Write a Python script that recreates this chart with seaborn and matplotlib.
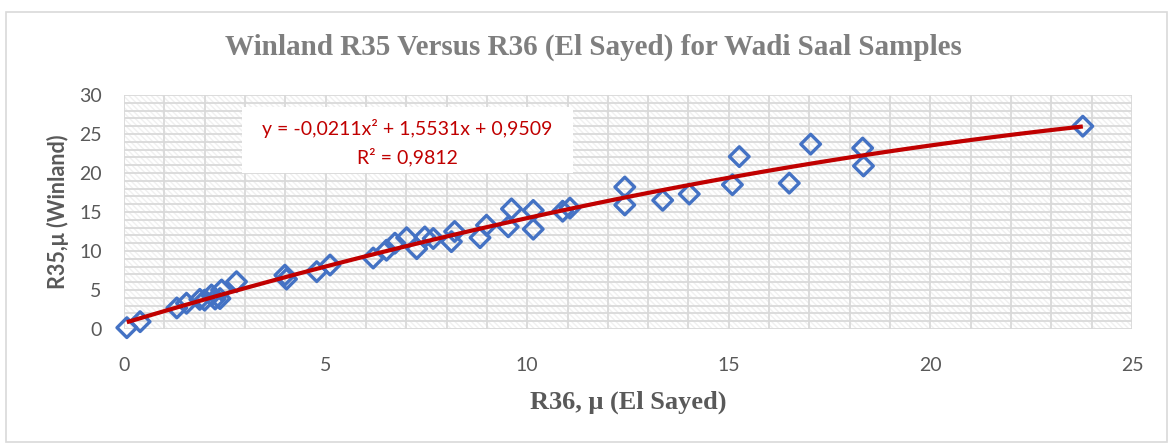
import numpy as np
import pandas as pd
import matplotlib
matplotlib.use("Agg")
import matplotlib.pyplot as plt
from matplotlib.patches import Rectangle
import seaborn as sns

# ---- data ----
r36_el_sayed = [0.07, 0.40, 1.31, 1.55, 1.88, 2.00, 2.17, 2.26, 2.42, 2.38, 2.79,
                3.99, 4.03, 4.78, 5.11, 6.18, 6.51, 6.72, 7.01, 7.26, 7.46, 7.67,
                8.12, 8.20, 8.83, 8.99, 9.53, 9.61, 10.15, 10.15, 10.88, 11.06,
                12.42, 12.42, 13.36, 14.02, 15.09, 15.26, 16.50, 17.03, 18.32,
                18.34, 23.78]
r35_winland = [0.17, 0.94, 2.70, 3.30, 3.80, 3.70, 4.36, 3.85, 5.00, 3.90, 6.06,
               6.90, 6.40, 7.35, 8.20, 9.10, 10.10, 11.00, 11.70, 10.30, 11.80, 11.60,
               11.20, 12.50, 11.70, 13.30, 13.10, 15.40, 15.20, 12.80, 15.10, 15.50,
               15.90, 18.20, 16.50, 17.30, 18.50, 22.10, 18.70, 23.70, 23.20,
               20.90, 26.00]
x_ticks = [0, 5, 10, 15, 20, 25]
y_ticks = [0, 5, 10, 15, 20, 25, 30]
equation_text = "y = -0,0211x\u00b2 + 1,5531x + 0,9509"
r2_text = "R\u00b2 = 0,9812"
title_text = "Winland R35 Versus R36 (El Sayed) for Wadi Saal Samples"
x_label = "R36, \u03bc (El Sayed)"
y_label = "R35,\u03bc (Winland)"

df = pd.DataFrame({"x": r36_el_sayed, "y": r35_winland})

sns.set_theme(style="white")
plt.rcParams["font.family"] = ["Lato", "DejaVu Sans"]
plt.rcParams["hatch.linewidth"] = 1.0

fig = plt.figure(figsize=(11.7, 4.43), dpi=100)
ax = fig.add_axes([124/1170, 1-329/443, (1132-124)/1170, (329-95)/443])

# outer chart border
fig.patches.append(Rectangle((6/1170, 1/443), 1161/1170, 430/443, transform=fig.transFigure,
                             fill=False, edgecolor="#D9D9D9", lw=1.2, zorder=0))

# hatched plot area
ax.add_patch(Rectangle((0, 0), 1, 1, transform=ax.transAxes, facecolor="white",
                       hatch="\\\\\\\\\\\\", edgecolor="#F0F0F0", lw=0, zorder=0))

ax.set_xlim(0, 25)
ax.set_ylim(0, 30)
ax.set_xticks(x_ticks)
ax.set_yticks(y_ticks)
ax.set_xticks(np.arange(0, 26, 1), minor=True)
ax.set_yticks(np.arange(0, 31, 1), minor=True)
ax.grid(True, which="both", color="#D9D9D9", lw=1.3, zorder=1)
ax.set_axisbelow(True)
for s in ax.spines.values():
    s.set_visible(False)
ax.tick_params(which="both", length=0)
ax.tick_params(axis="x", pad=20, labelsize=14, labelcolor="#595959")
ax.tick_params(axis="y", pad=16, labelsize=14, labelcolor="#595959")

sns.scatterplot(data=df, x="x", y="y", ax=ax, marker="D", s=100,
                facecolor="none", edgecolor="#4472C4", linewidth=2.4,
                clip_on=False, zorder=3)
sns.regplot(data=df, x="x", y="y", ax=ax, order=2, ci=None, scatter=False,
            line_kws=dict(color="#C00000", lw=3, zorder=4, solid_capstyle="butt"))

ax.set_xlabel(x_label, family="Liberation Serif", fontweight="bold", fontsize=19,
              color="#595959", labelpad=12)
ax.set_ylabel(y_label, family="Lato", fontweight="bold", fontsize=15.5,
              color="#595959", labelpad=7)

# equation box
ax.add_patch(Rectangle((118/1008, (329-173)/234), 331/1008, 66/234, transform=ax.transAxes,
                       facecolor="white", edgecolor="none", zorder=2))
ax.text(283/1008, (329-128)/234, equation_text, transform=ax.transAxes, ha="center",
        va="center", fontsize=14, color="#C00000", zorder=5)
ax.text(283/1008, (329-157)/234, r2_text, transform=ax.transAxes, ha="center",
        va="center", fontsize=14, color="#C00000", zorder=5)

fig.text(593/1170, 1-47/443, title_text, family="Liberation Serif", fontweight="bold",
         fontsize=21, color="#7F7F7F", ha="center", va="center")

fig.savefig("out.png", dpi=100)
